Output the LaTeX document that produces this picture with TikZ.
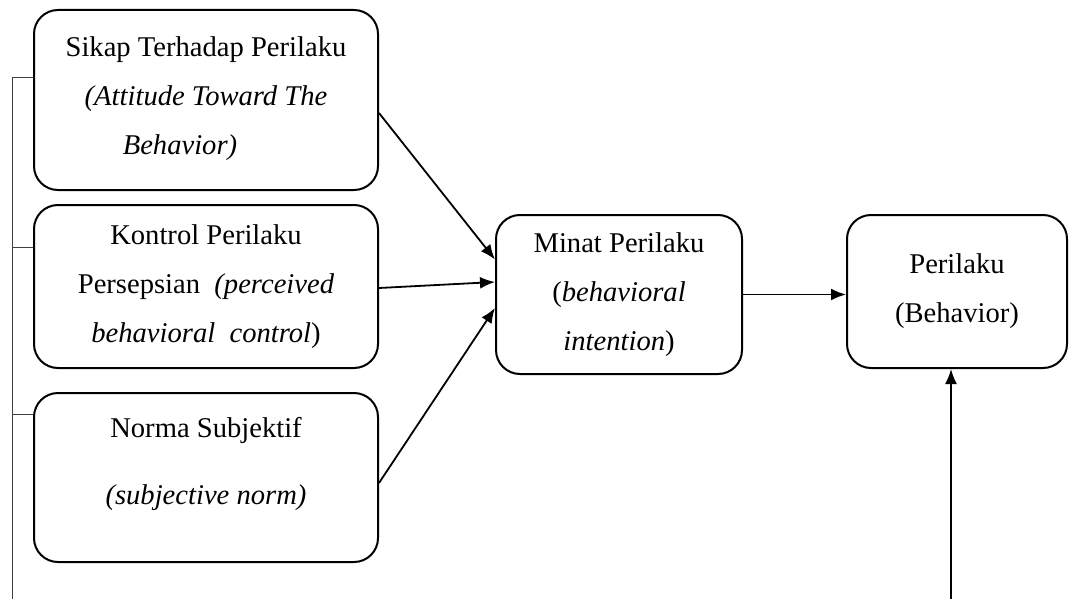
\documentclass[tikz,border=0pt]{standalone}
\usepackage{fontspec}
\setmainfont{Liberation Serif}
\usetikzlibrary{arrows.meta,calc}

\begin{document}
\begin{tikzpicture}[%%
  x=0.5pt,y=-0.5pt,
  boxStyle/.style={draw,line width=1pt,rounded corners=12pt,inner sep=0pt,
    align=center,font=\fontsize{14.3}{24.5}\selectfont},
  arrowStyle/.style={-{Latex[length=7.5pt,width=6pt]},line width=0.9pt},
  bracketStyle/.style={-,line width=0.5pt,black!75}
]
%%
%% Frame of the picture.
\useasboundingbox (0,0) rectangle (1069,599);
\pgfmathsetmacro{\leftW}{172}
%%
%% Coordinates of the boxes.
\coordinate (sikapC) at (206,100);
\coordinate (kontrolC) at (206,286.5);
\coordinate (normaC) at (206,477.5);
\coordinate (minatC) at (619,294.5);
\coordinate (perilakuC) at (957,291.5);
%%
%% The three determinants on the left.
\node[boxStyle,minimum width=\leftW pt,minimum height=90pt] (sikap) at (sikapC)
  {Sikap Terhadap Perilaku\\ \textit{(Attitude Toward The}\\
   \textit{Behavior)}\rule{26pt}{0pt}\\[-20pt]\mbox{}};
\node[boxStyle,minimum width=\leftW pt,minimum height=81.5pt] (kontrol) at (kontrolC)
  {Kontrol Perilaku\\ Persepsian\ \ \textit{(perceived}\\
   \textit{behavioral\ \ control})};
\node[boxStyle,minimum width=\leftW pt,minimum height=84.5pt] (norma) at (normaC)
  {Norma Subjektif\\[9pt] \textit{(subjective norm)}\\[-8pt]\mbox{}};
%%
%% Intention and behaviour.
\node[boxStyle,minimum width=123pt,minimum height=79.5pt] (minat) at (minatC)
  {Minat Perilaku\\ (\textit{behavioral}\\ \textit{intention})};
\node[boxStyle,minimum width=110pt,minimum height=76.5pt] (perilaku) at (perilakuC)
  {Perilaku\\ (Behavior)};
%%
%% Bracket joining the left boxes.
\coordinate (tickA) at (12,78);
\coordinate (tickB) at (12,247);
\coordinate (tickC) at (12,414);
\coordinate (bracketEnd) at (12,599);
\draw[bracketStyle] (bracketEnd) -- (tickA) -- (tickA -| sikap.west);
\draw[bracketStyle] (tickB) -- (tickB -| kontrol.west);
\draw[bracketStyle] (tickC) -- (tickC -| norma.west);
%%
%% Arrows into the intention.
\draw[arrowStyle] ($(sikap.east)+(0,13)$) -- ($(minat.west)+(0,-35)$);
\draw[arrowStyle] ($(kontrol.east)+(0,1.5)$) -- ($(minat.west)+(0,-12.5)$);
\draw[arrowStyle] ($(norma.east)+(0,5.5)$) -- ($(minat.west)+(0,13.5)$);
%%
%% Intention to behaviour.
\draw[arrowStyle] (minat.east) -- (minat.east -| perilaku.west);
\coordinate (controlEnd) at (951,599);
\draw[arrowStyle] (controlEnd) -- (controlEnd |- perilaku.south);
\end{tikzpicture}
\end{document}
